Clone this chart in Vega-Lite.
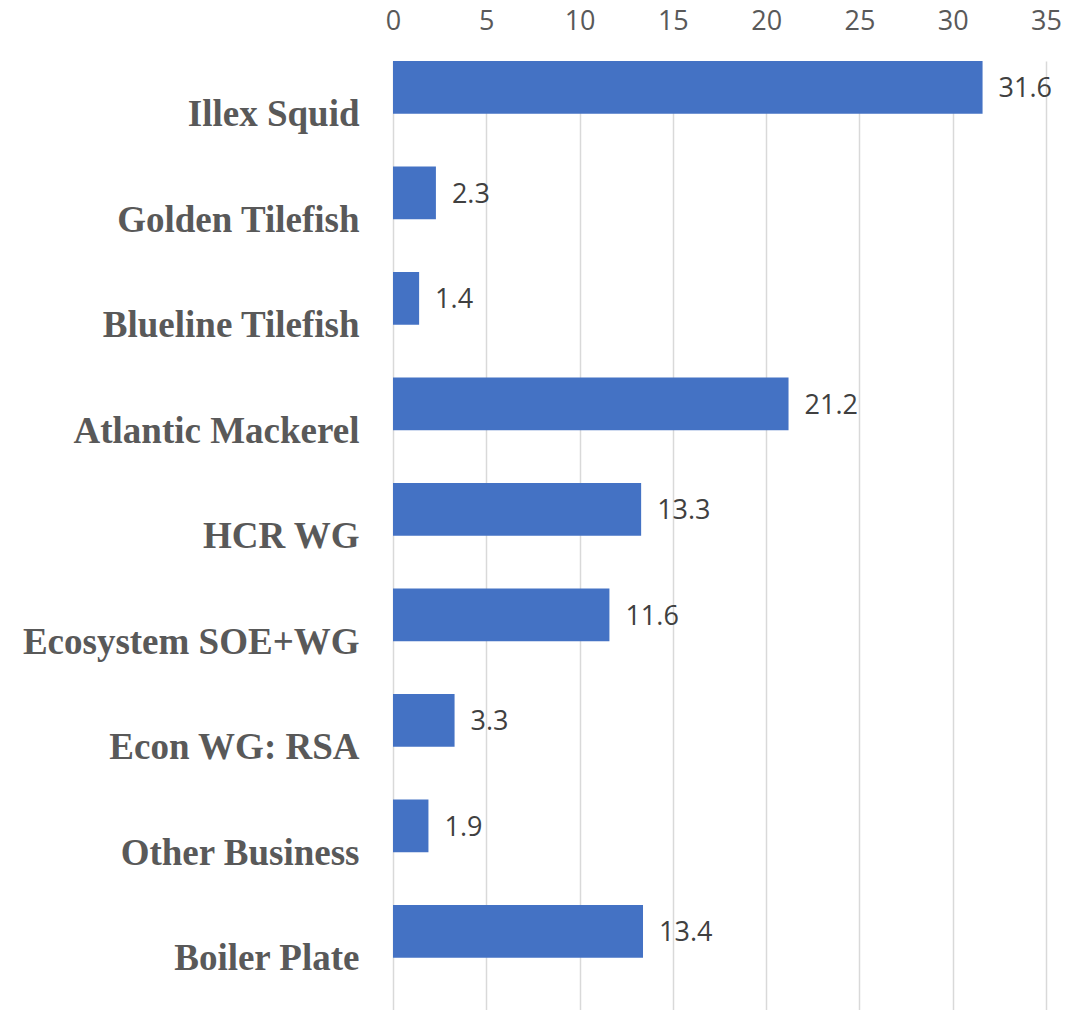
{
  "$schema": "https://vega.github.io/schema/vega-lite/v6.json",
  "autosize": "none",
  "padding": {"left": 393, "top": 61, "right": 38, "bottom": 0},
  "width": 653,
  "height": 949,
  "background": "white",
  "config": {"view": {"stroke": null}},
  "data": {
    "values": [
      {"category": "Illex Squid", "value": 31.6},
      {"category": "Golden Tilefish", "value": 2.3},
      {"category": "Blueline Tilefish", "value": 1.4},
      {"category": "Atlantic Mackerel", "value": 21.2},
      {"category": "HCR WG", "value": 13.3},
      {"category": "Ecosystem SOE+WG", "value": 11.6},
      {"category": "Econ WG: RSA", "value": 3.3},
      {"category": "Other Business", "value": 1.9},
      {"category": "Boiler Plate", "value": 13.4}
    ]
  },
  "encoding": {
    "y": {
      "field": "category",
      "type": "nominal",
      "sort": null,
      "scale": {"paddingInner": 0.5, "paddingOuter": 0.2475, "align": 0},
      "axis": {
        "title": null,
        "ticks": false,
        "domain": false,
        "grid": false,
        "labelFont": "Liberation Serif",
        "labelFontWeight": "bold",
        "labelFontSize": 37,
        "labelColor": "#595959",
        "labelBaseline": "alphabetic",
        "labelOffset": 39,
        "labelPadding": 34,
        "labelLimit": 500
      }
    },
    "x": {
      "field": "value",
      "type": "quantitative",
      "scale": {"domain": [0, 35], "nice": false},
      "axis": {
        "orient": "top",
        "title": null,
        "values": [0, 5, 10, 15, 20, 25, 30, 35],
        "ticks": false,
        "domain": false,
        "grid": true,
        "gridColor": "#d9d9d9",
        "gridWidth": 1.5,
        "labelFont": "Open Sans",
        "labelFontSize": 27,
        "labelColor": "#595959",
        "labelPadding": 26,
        "labelFlush": false
      }
    }
  },
  "layer": [
    {"mark": {"type": "bar", "color": "#4472C4"}},
    {
      "mark": {"type": "text", "align": "left", "baseline": "middle", "dx": 16, "dy": 2, "font": "Open Sans", "fontSize": 27, "color": "#404040"},
      "encoding": {"text": {"field": "value", "type": "quantitative", "format": ".1f"}}
    }
  ]
}
